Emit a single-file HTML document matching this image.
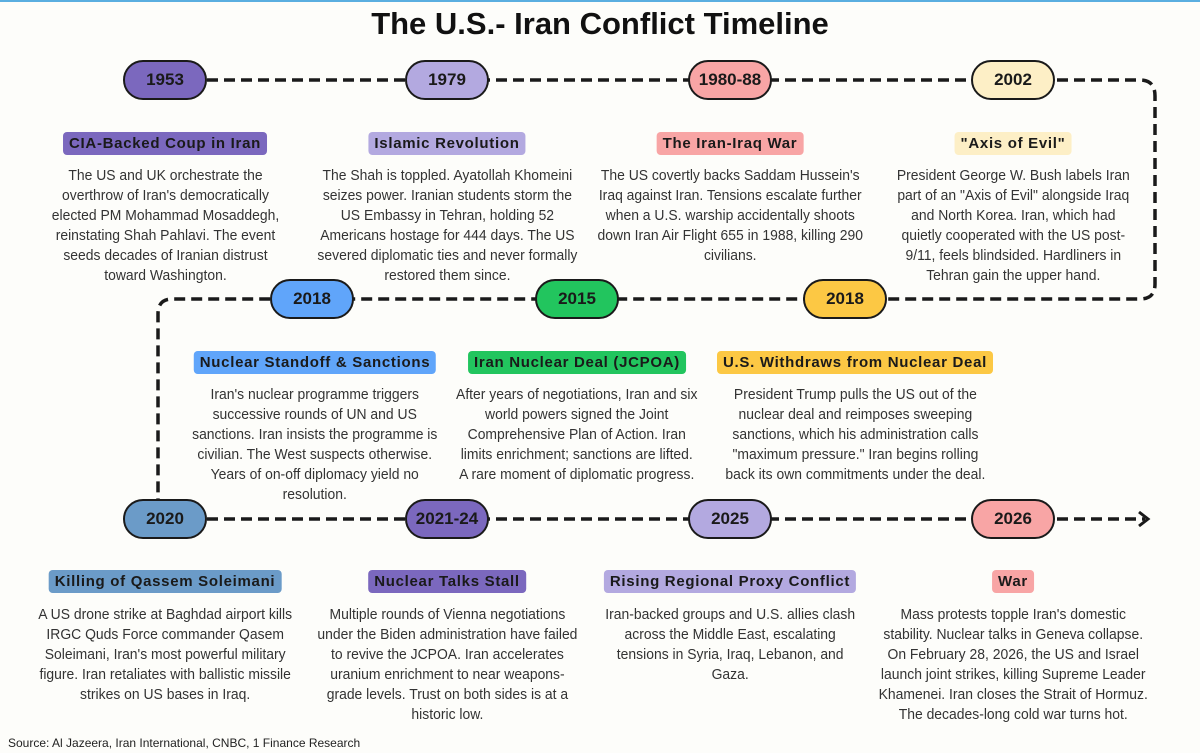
<!DOCTYPE html>
<html><head><meta charset="utf-8"><style>
*{margin:0;padding:0;box-sizing:border-box}
body{width:1200px;height:753px;background:#fdfdfa;position:relative;overflow:hidden;font-family:"Liberation Sans",Arial,sans-serif;color:#222}
.topbar{position:absolute;left:0;top:0;width:1200px;height:2px;background:#5aaee0}
h1{position:absolute;left:0;top:6px;width:1200px;text-align:center;font-size:31px;font-weight:bold;color:#111}
svg{position:absolute;left:0;top:0}
.b{position:absolute;width:84px;height:40px;margin-left:-42px;margin-top:-20px;border:2.5px solid #1a1a1a;border-radius:20px;text-align:center;line-height:35px;font-weight:bold;font-size:17px;color:#1a1a1a}
.t{position:absolute;height:23px;line-height:23px;padding:0 6px;border-radius:4px;font-weight:bold;font-size:15px;letter-spacing:0.7px;white-space:nowrap;transform:translateX(-50%);color:#1a1a1a}
.d{position:absolute;width:400px;margin-left:-200px;text-align:center;font-size:14.5px;line-height:20px;color:#333;white-space:nowrap}
.d span{display:inline-block;transform:scaleX(0.96)}
.src{position:absolute;left:8px;top:736px;font-size:12px;color:#222}
</style></head><body>
<div class="topbar"></div>
<h1>The U.S.- Iran Conflict Timeline</h1>
<svg width="1200" height="753">
<g fill="none" stroke="#1a1a1a" stroke-width="3.5" stroke-dasharray="11,6">
<path d="M207 80 H1140 Q1155 80 1155 96 V284 Q1155 299 1140 299 H172 Q158 299 158 314 V500"/>
<path d="M207 519 H1145"/>
</g>
<path d="M1139 512 L1148 519 L1139 526" fill="none" stroke="#1a1a1a" stroke-width="3"/>
</svg>
<div class="b" style="left:165px;top:80px;background:#7b68be">1953</div>
<div class="b" style="left:447px;top:80px;background:#b3a9e0">1979</div>
<div class="b" style="left:730px;top:80px;background:#f8a5a5">1980-88</div>
<div class="b" style="left:1013px;top:80px;background:#fdefc6">2002</div>
<div class="b" style="left:312px;top:299px;background:#60a5fa">2018</div>
<div class="b" style="left:577px;top:299px;background:#22c55e">2015</div>
<div class="b" style="left:845px;top:299px;background:#fcc844">2018</div>
<div class="b" style="left:165px;top:519px;background:#6b9bc8">2020</div>
<div class="b" style="left:447px;top:519px;background:#7b68be">2021-24</div>
<div class="b" style="left:730px;top:519px;background:#b3a9e0">2025</div>
<div class="b" style="left:1013px;top:519px;background:#f8a5a5">2026</div>

<div class="t" style="left:165px;top:132px;background:#7b68be">CIA-Backed Coup in Iran</div>
<div class="t" style="left:447px;top:132px;background:#b3a9e0">Islamic Revolution</div>
<div class="t" style="left:730px;top:132px;background:#f8a5a5">The Iran-Iraq War</div>
<div class="t" style="left:1013px;top:132px;background:#fdefc6">"Axis of Evil"</div>
<div class="t" style="left:315px;top:351px;background:#60a5fa">Nuclear Standoff &amp; Sanctions</div>
<div class="t" style="left:577px;top:351px;background:#22c55e">Iran Nuclear Deal (JCPOA)</div>
<div class="t" style="left:855px;top:351px;background:#fcc844">U.S. Withdraws from Nuclear Deal</div>
<div class="t" style="left:165px;top:570px;background:#6b9bc8">Killing of Qassem Soleimani</div>
<div class="t" style="left:447px;top:570px;background:#7b68be">Nuclear Talks Stall</div>
<div class="t" style="left:730px;top:570px;background:#b3a9e0">Rising Regional Proxy Conflict</div>
<div class="t" style="left:1013px;top:570px;background:#f8a5a5">War</div>

<div class="d" style="left:165px;top:166px"><span>The US and UK orchestrate the<br>overthrow of Iran's democratically<br>elected PM Mohammad Mosaddegh,<br>reinstating Shah Pahlavi. The event<br>seeds decades of Iranian distrust<br>toward Washington.</span></div>
<div class="d" style="left:447px;top:166px"><span>The Shah is toppled. Ayatollah Khomeini<br>seizes power. Iranian students storm the<br>US Embassy in Tehran, holding 52<br>Americans hostage for 444 days. The US<br>severed diplomatic ties and never formally<br>restored them since.</span></div>
<div class="d" style="left:730px;top:166px"><span>The US covertly backs Saddam Hussein's<br>Iraq against Iran. Tensions escalate further<br>when a U.S. warship accidentally shoots<br>down Iran Air Flight 655 in 1988, killing 290<br>civilians.</span></div>
<div class="d" style="left:1013px;top:166px"><span>President George W. Bush labels Iran<br>part of an "Axis of Evil" alongside Iraq<br>and North Korea. Iran, which had<br>quietly cooperated with the US post-<br>9/11, feels blindsided. Hardliners in<br>Tehran gain the upper hand.</span></div>
<div class="d" style="left:315px;top:385px"><span>Iran's nuclear programme triggers<br>successive rounds of UN and US<br>sanctions. Iran insists the programme is<br>civilian. The West suspects otherwise.<br>Years of on-off diplomacy yield no<br>resolution.</span></div>
<div class="d" style="left:577px;top:385px"><span>After years of negotiations, Iran and six<br>world powers signed the Joint<br>Comprehensive Plan of Action. Iran<br>limits enrichment; sanctions are lifted.<br>A rare moment of diplomatic progress.</span></div>
<div class="d" style="left:855px;top:385px"><span>President Trump pulls the US out of the<br>nuclear deal and reimposes sweeping<br>sanctions, which his administration calls<br>"maximum pressure." Iran begins rolling<br>back its own commitments under the deal.</span></div>
<div class="d" style="left:165px;top:605px"><span>A US drone strike at Baghdad airport kills<br>IRGC Quds Force commander Qasem<br>Soleimani, Iran's most powerful military<br>figure. Iran retaliates with ballistic missile<br>strikes on US bases in Iraq.</span></div>
<div class="d" style="left:447px;top:605px"><span>Multiple rounds of Vienna negotiations<br>under the Biden administration have failed<br>to revive the JCPOA. Iran accelerates<br>uranium enrichment to near weapons-<br>grade levels. Trust on both sides is at a<br>historic low.</span></div>
<div class="d" style="left:730px;top:605px"><span>Iran-backed groups and U.S. allies clash<br>across the Middle East, escalating<br>tensions in Syria, Iraq, Lebanon, and<br>Gaza.</span></div>
<div class="d" style="left:1013px;top:605px"><span>Mass protests topple Iran's domestic<br>stability. Nuclear talks in Geneva collapse.<br>On February 28, 2026, the US and Israel<br>launch joint strikes, killing Supreme Leader<br>Khamenei. Iran closes the Strait of Hormuz.<br>The decades-long cold war turns hot.</span></div>
<div class="src">Source: Al Jazeera, Iran International, CNBC, 1 Finance Research</div>
</body></html>
